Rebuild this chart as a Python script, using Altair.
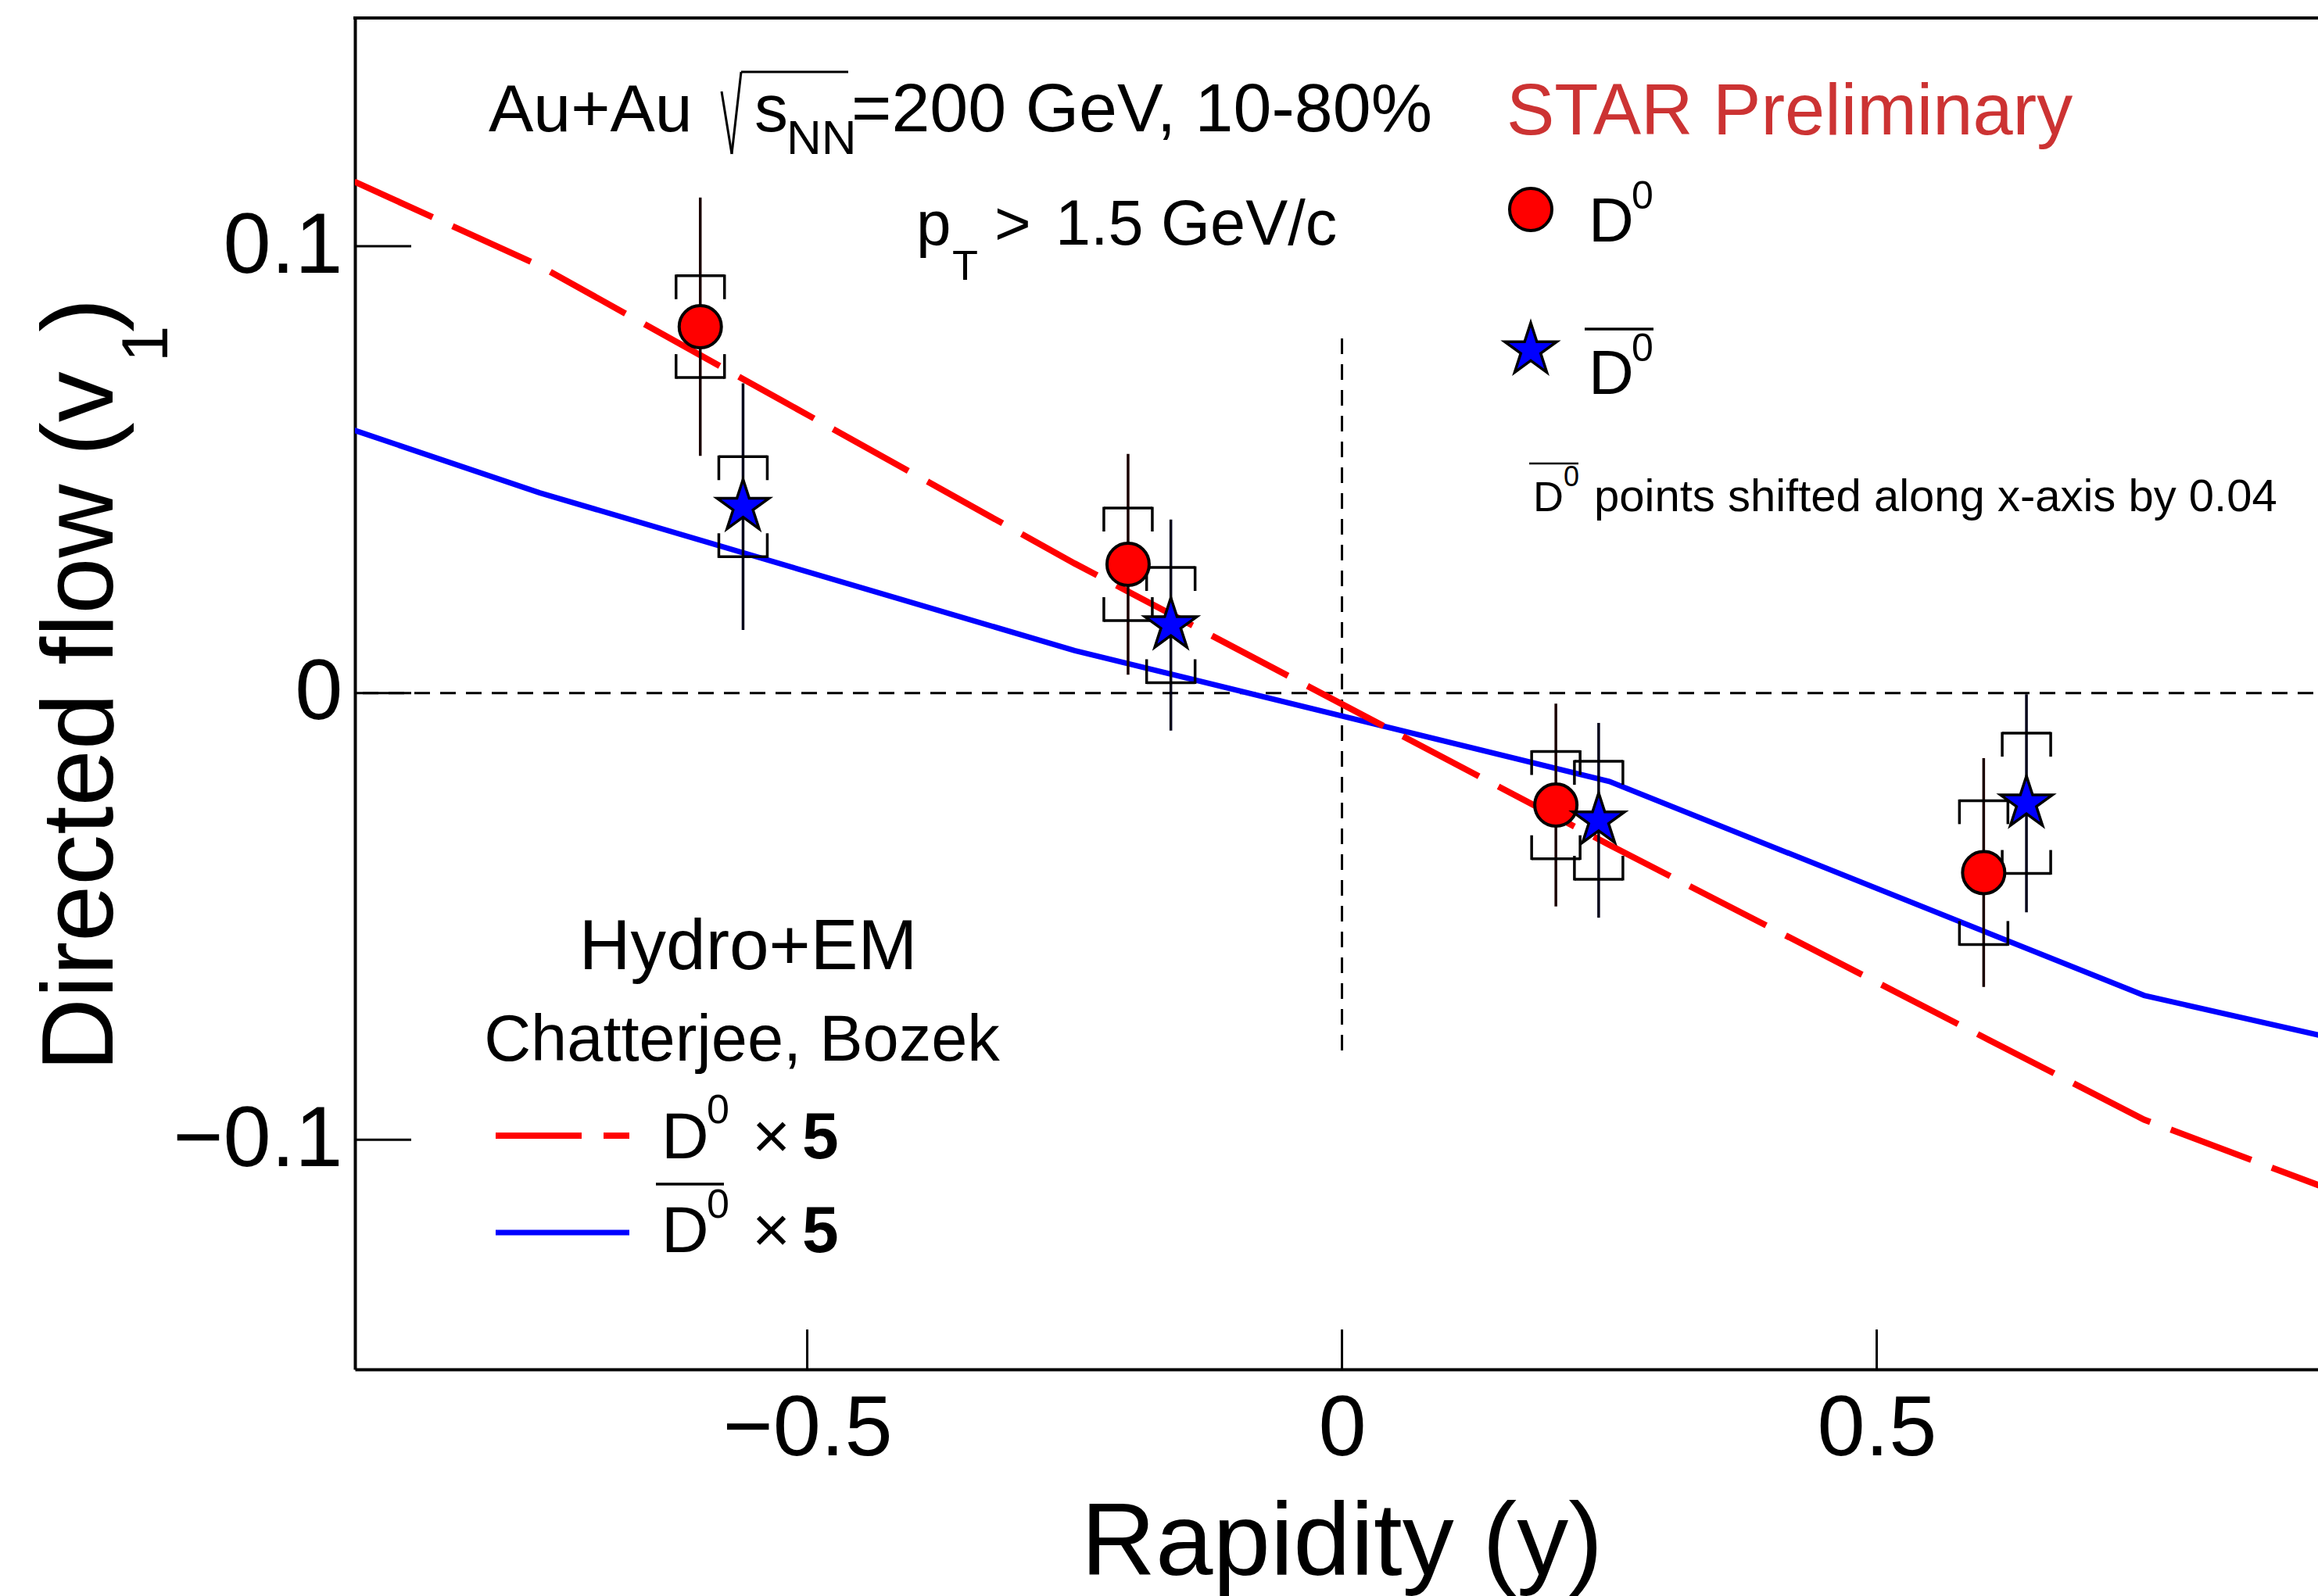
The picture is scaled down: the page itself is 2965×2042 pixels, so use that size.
import altair as alt
import pandas as pd

# ---------------- data ----------------
rap_d0 = [-0.6, -0.2, 0.2, 0.6]
v1_d0 = [0.0820, 0.0288, -0.0251, -0.0402]
stat_d0 = [0.0289, 0.0247, 0.0227, 0.0256]
sys_d0 = [0.0114, 0.0126, 0.0120, 0.0161]

rap_d0bar = [-0.56, -0.16, 0.24, 0.64]
v1_d0bar = [0.0417, 0.0152, -0.0285, -0.0247]
stat_d0bar = [0.0276, 0.0236, 0.0218, 0.0244]
sys_d0bar = [0.0112, 0.0129, 0.0132, 0.0157]

model_rap = [-1.0, -0.75, -0.25, 0.25, 0.75, 1.0]
model_d0 = [0.1228, 0.0956, 0.0290, -0.0340, -0.0955, -0.1180]
model_d0bar = [0.0650, 0.0448, 0.0095, -0.0198, -0.0677, -0.0813]

x_ticks = [-0.5, 0.0, 0.5]
y_ticks = [-0.1, 0.0, 0.1]

X_DOMAIN = [-0.9229, 0.9126]
Y_DOMAIN = [-0.1514, 0.1511]

W, H = 2511, 1729
FONT = "Liberation Sans"

xs = alt.Scale(domain=X_DOMAIN, nice=False, zero=False)
ys = alt.Scale(domain=Y_DOMAIN, nice=False, zero=False)

x_axis = alt.Axis(values=x_ticks, format="~g", ticks=False, tickSize=0, grid=False,
                  domainColor="black", domainWidth=4, labelFont=FONT, labelFontSize=110,
                  labelColor="black", labelPadding=22, labelLimit=1000, title=None)
y_axis = alt.Axis(values=y_ticks, format="~g", ticks=False, tickSize=0, grid=False,
                  domainColor="black", domainWidth=4, labelFont=FONT, labelFontSize=110,
                  labelColor="black", labelPadding=16, labelLimit=1000, title=None)


def points_df(rap, v, stat, sys):
    return pd.DataFrame({
        "x": rap, "v": v,
        "lo": [a - b for a, b in zip(v, stat)], "hi": [a + b for a, b in zip(v, stat)],
        "slo": [a - b for a, b in zip(v, sys)], "shi": [a + b for a, b in zip(v, sys)],
    })


df_d0 = points_df(rap_d0, v1_d0, stat_d0, sys_d0)
df_d0bar = points_df(rap_d0bar, v1_d0bar, stat_d0bar, sys_d0bar)
df_model = pd.DataFrame({"x": model_rap + model_rap,
                         "v": model_d0 + model_d0bar,
                         "s": ["D0"] * len(model_rap) + ["D0bar"] * len(model_rap)})

layers = []

# axes carrier (invisible points to attach axes)
base_axes = alt.Chart(df_d0).mark_point(opacity=0).encode(
    x=alt.X("x:Q", scale=xs, axis=x_axis),
    y=alt.Y("v:Q", scale=ys, axis=y_axis),
)
layers.append(base_axes)

# dashed reference lines
layers.append(alt.Chart(pd.DataFrame({"y": [0.0]})).mark_rule(
    color="black", strokeWidth=3, strokeDash=[20, 13]).encode(
    y=alt.Y("y:Q", scale=ys), x=alt.value(10), x2=alt.value(W)))
layers.append(alt.Chart(pd.DataFrame({"x": [0.0], "y1": [-0.08], "y2": [0.08]})).mark_rule(
    color="black", strokeWidth=3, strokeDash=[20, 13]).encode(
    x=alt.X("x:Q", scale=xs), y=alt.Y("y1:Q", scale=ys), y2="y2:Q"))

# model curves
layers.append(alt.Chart(df_model[df_model.s == "D0bar"]).mark_line(
    color="#0000ff", strokeWidth=7, clip=True).encode(
    x=alt.X("x:Q", scale=xs), y=alt.Y("v:Q", scale=ys)))
layers.append(alt.Chart(df_model[df_model.s == "D0"]).mark_line(
    color="#ff0000", strokeWidth=8, strokeDash=[110, 28], strokeDashOffset=23, clip=True).encode(
    x=alt.X("x:Q", scale=xs), y=alt.Y("v:Q", scale=ys)))

# error bars and systematic brackets
HW, LEG, BW = 31, 30, 3.5
for df, col in [(df_d0, "#1a0000"), (df_d0bar, "#00001a")]:
    layers.append(alt.Chart(df).mark_rule(color=col, strokeWidth=3.5).encode(
        x=alt.X("x:Q", scale=xs), y=alt.Y("lo:Q", scale=ys), y2="hi:Q"))
    for fld, sgn in [("shi", 1), ("slo", -1)]:
        layers.append(alt.Chart(df).mark_rule(color="black", strokeWidth=BW,
                                              xOffset=-HW, x2Offset=HW).encode(
            x=alt.X("x:Q", scale=xs), x2="x:Q", y=alt.Y(f"{fld}:Q", scale=ys)))
        for side in (-HW, HW):
            layers.append(alt.Chart(df).mark_rule(
                color="black", strokeWidth=BW, xOffset=side, x2Offset=side,
                yOffset=-sgn * 1.5, y2Offset=sgn * LEG).encode(
                x=alt.X("x:Q", scale=xs), x2="x:Q",
                y=alt.Y(f"{fld}:Q", scale=ys), y2=f"{fld}:Q"))

STAR = ("M0,-1 L0.2245,-0.309 L0.9511,-0.309 L0.3633,0.118 L0.5878,0.809 "
        "L0,0.382 L-0.5878,0.809 L-0.3633,0.118 L-0.9511,-0.309 L-0.2245,-0.309 Z")
CIRC_SIZE = 2916
STAR_SIZE = 4900

layers.append(alt.Chart(df_d0).mark_point(
    shape="circle", filled=True, fill="#ff0000", stroke="black", strokeWidth=4,
    size=CIRC_SIZE, opacity=1).encode(x=alt.X("x:Q", scale=xs), y=alt.Y("v:Q", scale=ys)))
layers.append(alt.Chart(df_d0bar).mark_point(
    shape=STAR, filled=True, fill="#0000ff", stroke="black", strokeWidth=3.5,
    size=STAR_SIZE, opacity=1).encode(x=alt.X("x:Q", scale=xs), y=alt.Y("v:Q", scale=ys)))

# custom inward ticks
layers.append(alt.Chart(pd.DataFrame({"t": y_ticks})).mark_rule(color="black", strokeWidth=3).encode(
    y=alt.Y("t:Q", scale=ys), x=alt.value(0), x2=alt.value(72)))
layers.append(alt.Chart(pd.DataFrame({"t": x_ticks})).mark_rule(color="black", strokeWidth=3).encode(
    x=alt.X("t:Q", scale=xs), y=alt.value(H - 51), y2=alt.value(H)))

# top frame line
layers.append(alt.Chart(pd.DataFrame({"a": [0]})).mark_rule(color="black", strokeWidth=4).encode(
    x=alt.value(-2), x2=alt.value(W), y=alt.value(0)))


def txt(s, x, y, size, align="left", color="black", weight="normal", angle=0):
    kw = dict(align=align, baseline="alphabetic", fontSize=size, font=FONT,
              color=color, fontWeight=weight)
    if angle:
        kw["angle"] = angle
    return alt.Chart(pd.DataFrame({"t": [s]})).mark_text(**kw).encode(
        x=alt.value(x), y=alt.value(y), text="t:N")


def seg(x1, y1, x2, y2, width=3, color="black", dash=None):
    kw = dict(color=color, strokeWidth=width)
    if dash:
        kw["strokeDash"] = dash
    return alt.Chart(pd.DataFrame({"a": [0]})).mark_rule(**kw).encode(
        x=alt.value(x1), y=alt.value(y1), x2=alt.value(x2), y2=alt.value(y2))


# header text: Au+Au sqrt(s_NN)=200 GeV, 10-80%
layers += [
    txt("Au+Au", 171, 145, 86),
    seg(469, 94, 482, 174, 3), seg(482, 174, 494, 69, 3), seg(494, 69, 631, 69, 3),
    txt("s", 511, 145, 86),
    txt("NN", 552, 174, 62),
    txt("=200 GeV, 10-80%", 635, 145, 88),
    txt("p", 718, 290, 80),
    txt("T", 764, 335, 54),
    txt(">", 818, 290, 80),
    txt("1.5 GeV/c", 896, 290, 81),
    txt("STAR Preliminary", 1473, 149, 92, color="#cc3333"),
]

# data legend
leg_sym = pd.DataFrame({"a": [0]})
layers += [
    alt.Chart(leg_sym).mark_point(shape="circle", filled=True, fill="#ff0000", stroke="black",
                                  strokeWidth=4, size=CIRC_SIZE, opacity=1).encode(
        x=alt.value(1504), y=alt.value(245)),
    txt("D", 1578, 286, 80), txt("0", 1633, 244, 50),
    alt.Chart(leg_sym).mark_point(shape=STAR, filled=True, fill="#0000ff", stroke="black",
                                  strokeWidth=3.5, size=STAR_SIZE, opacity=1).encode(
        x=alt.value(1504), y=alt.value(425)),
    seg(1573, 398, 1661, 398, 3.5),
    txt("D", 1578, 481, 80), txt("0", 1633, 439, 50),
    seg(1502, 570, 1565, 570, 2.5),
    txt("D", 1507, 631, 54), txt("0", 1546, 599, 36),
    txt("points shifted along x-axis by 0.04", 1585, 631, 58),
]

# model legend
layers += [
    txt("Hydro+EM", 503, 1217, 91, align="center"),
    txt("Chatterjee, Bozek", 495, 1334, 83, align="center"),
    seg(180, 1430, 351, 1430, 8, "#ff0000", [110, 28]),
    txt("D", 392, 1459, 84), txt("0", 450, 1414, 52),
    txt("\u00d7", 508, 1459, 84), txt("5", 572, 1459, 84, weight="bold"),
    seg(180, 1554, 351, 1554, 7, "#0000ff"),
    seg(385, 1492, 472, 1492, 3.5),
    txt("D", 392, 1579, 84), txt("0", 450, 1535, 52),
    txt("\u00d7", 508, 1579, 84), txt("5", 572, 1579, 84, weight="bold"),
]

# axis titles
layers += [
    txt("Rapidity (y)", 1262.5, 1992, 132, align="center"),
    txt("Directed flow (v", -310, 1348, 130, angle=270),
    txt("1", -240, 417, 84, align="center", angle=270),
    txt(")", -310, 380, 130, align="center", angle=270),
]

chart = alt.layer(*layers).properties(
    width=W, height=H,
    autosize=alt.AutoSizeParams(type="none"),
    padding={"left": 454, "top": 23, "right": 0, "bottom": 290},
    background="white",
).configure_view(strokeWidth=0).configure(font=FONT)

chart.save("out.html", embed_options={"renderer": "svg", "actions": False})
